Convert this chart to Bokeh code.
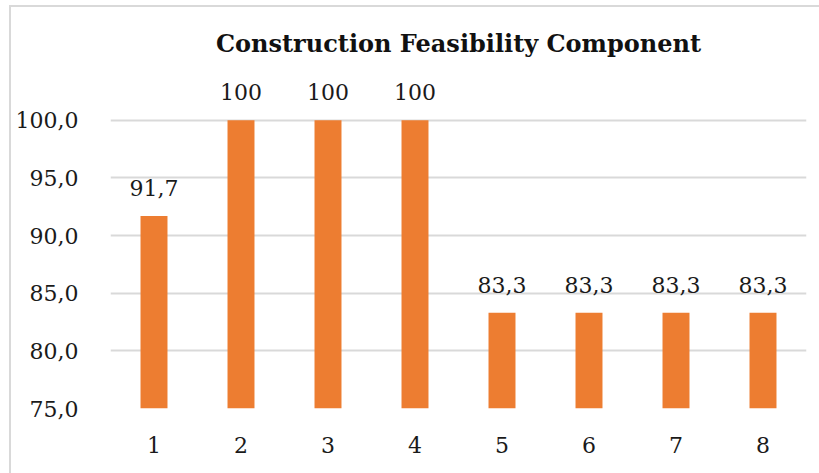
from bokeh.plotting import figure
from bokeh.models import ColumnDataSource, Range1d, FixedTicker, LabelSet, InlineStyleSheet
from bokeh.core.properties import value
from bokeh.embed import file_html
from bokeh.resources import INLINE

categories = ["1", "2", "3", "4", "5", "6", "7", "8"]
values = [91.7, 100, 100, 100, 83.3, 83.3, 83.3, 83.3]
y_ticks = [75, 80, 85, 90, 95, 100, 105]
title_text = "Construction Feasibility Component"


def fmt(v):
    if float(v).is_integer():
        return str(int(v))
    return ("%.1f" % v).replace(".", ",")


labels = [fmt(v) for v in values]

src = ColumnDataSource(dict(cat=categories, val=values, lab=labels))

FONT = "DejaVu Serif"

frame_css = InlineStyleSheet(css="""
:host::after {
  content: "";
  position: absolute;
  left: 9px;
  top: 5px;
  right: 0px;
  bottom: 0px;
  border-left: 2.5px solid #D9D9D9;
  border-top: 2.5px solid #D9D9D9;
  pointer-events: none;
  z-index: 10;
}
""")

p = figure(width=819, height=473, x_range=categories, y_range=Range1d(75, 105),
           output_backend="svg", toolbar_location=None,
           min_border_left=110, min_border_right=13, min_border_top=62, min_border_bottom=65,
           stylesheets=[frame_css])

p.vbar(x="cat", top="val", bottom=75, width=0.31, source=src,
       fill_color="#ED7D31", line_color=None)

p.add_layout(LabelSet(x="cat", y="val", text="lab", source=src, text_align="center",
                      text_baseline="alphabetic", y_offset=20, text_font=value(FONT),
                      text_font_size=value("22px"), text_color="#1a1a1a"))

p.yaxis.ticker = FixedTicker(ticks=y_ticks)
p.yaxis.major_label_overrides = {t: ("" if t == 105 else ("%d,0" % t)) for t in y_ticks}
p.yaxis.axis_line_color = None
p.yaxis.major_tick_line_color = None
p.yaxis.minor_tick_line_color = None
p.yaxis.major_label_text_font = FONT
p.yaxis.major_label_text_font_size = "22px"
p.yaxis.major_label_text_color = "#1a1a1a"
p.yaxis.major_label_standoff = 26

p.xaxis.axis_line_color = None
p.xaxis.major_tick_line_color = None
p.xaxis.major_label_text_font = FONT
p.xaxis.major_label_text_font_size = "22px"
p.xaxis.major_label_text_color = "#1a1a1a"
p.xaxis.major_label_standoff = 22

p.xgrid.grid_line_color = None
p.ygrid.grid_line_color = "#D9D9D9"
p.ygrid.grid_line_width = 2

p.outline_line_color = None

p.title.text = title_text
p.title.align = "center"
p.title.text_font = FONT
p.title.text_font_style = "bold"
p.title.text_font_size = "24px"
p.title.text_color = "#111111"

open("out.html", "w").write(file_html(p, INLINE))
